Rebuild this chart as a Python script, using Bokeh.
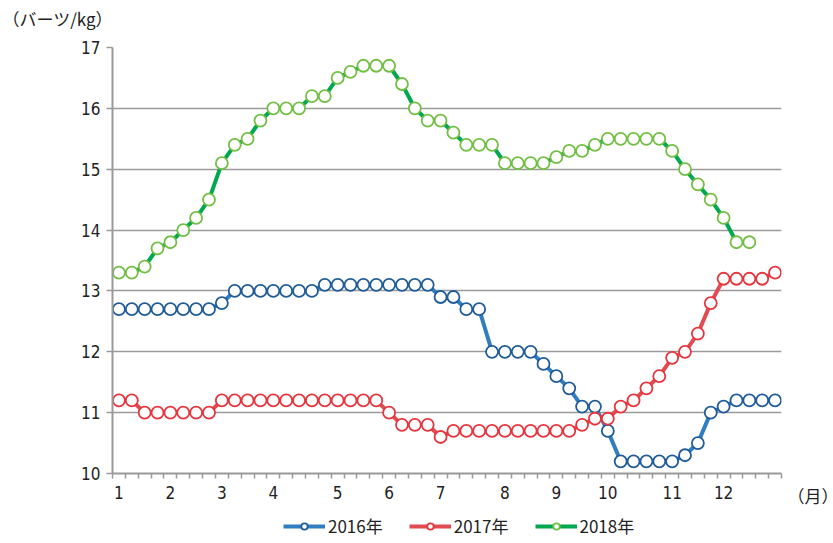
from bokeh.plotting import figure
from bokeh.models import FixedTicker, Legend, LegendItem, Range1d, Label, Title
from bokeh.layouts import column, row
from bokeh.embed import file_html
from bokeh.resources import INLINE

# ---- data (weekly prices, baht/kg) ----
month_labels = ["1", "2", "3", "4", "5", "6", "7", "8", "9", "10", "11", "12"]
month_weeks = [0, 4, 8, 12, 17, 21, 25, 30, 34, 38, 43, 47]

s2016 = [12.7, 12.7, 12.7, 12.7, 12.7, 12.7, 12.7, 12.7, 12.8, 13.0,
         13.0, 13.0, 13.0, 13.0, 13.0, 13.0, 13.1, 13.1, 13.1, 13.1,
         13.1, 13.1, 13.1, 13.1, 13.1, 12.9, 12.9, 12.7, 12.7, 12.0,
         12.0, 12.0, 12.0, 11.8, 11.6, 11.4, 11.1, 11.1, 10.7, 10.2,
         10.2, 10.2, 10.2, 10.2, 10.3, 10.5, 11.0, 11.1, 11.2, 11.2,
         11.2, 11.2]
s2017 = [11.2, 11.2, 11.0, 11.0, 11.0, 11.0, 11.0, 11.0, 11.2, 11.2,
         11.2, 11.2, 11.2, 11.2, 11.2, 11.2, 11.2, 11.2, 11.2, 11.2,
         11.2, 11.0, 10.8, 10.8, 10.8, 10.6, 10.7, 10.7, 10.7, 10.7,
         10.7, 10.7, 10.7, 10.7, 10.7, 10.7, 10.8, 10.9, 10.9, 11.1,
         11.2, 11.4, 11.6, 11.9, 12.0, 12.3, 12.8, 13.2, 13.2, 13.2,
         13.2, 13.3]
s2018 = [13.3, 13.3, 13.4, 13.7, 13.8, 14.0, 14.2, 14.5, 15.1, 15.4,
         15.5, 15.8, 16.0, 16.0, 16.0, 16.2, 16.2, 16.5, 16.6, 16.7,
         16.7, 16.7, 16.4, 16.0, 15.8, 15.8, 15.6, 15.4, 15.4, 15.4,
         15.1, 15.1, 15.1, 15.1, 15.2, 15.3, 15.3, 15.4, 15.5, 15.5,
         15.5, 15.5, 15.5, 15.3, 15.0, 14.75, 14.5, 14.2, 13.8, 13.8]

series = [
    ("2016年", s2016, "#2F7EC1", "#1F5C99"),
    ("2017年", s2017, "#E14B52", "#E8343C"),
    ("2018年", s2018, "#00A84F", "#72BF44"),
]

NUM_FONT = "Liberation Sans Narrow, DejaVu Sans Condensed, sans-serif"
JP_FONT = "Noto Sans CJK JP"
TXT = "#222222"
GRID = "#9a9a9a"


def blank(w, h, y0=0):
    f = figure(width=w, height=h, x_range=Range1d(0, w),
               y_range=Range1d(y0, y0 + h),
               x_axis_type=None, y_axis_type=None, toolbar_location=None,
               output_backend="svg", min_border=0)
    f.outline_line_color = None
    return f


# header with unit label
header = blank(830, 30)
header.add_layout(Label(x=2, y=12, text="（バーツ/kg）", text_font=JP_FONT,
                        text_font_size="17px", text_color=TXT,
                        text_baseline="middle", text_align="left"))

# main chart
p = figure(width=785, height=484, output_backend="svg", toolbar_location=None,
           x_range=Range1d(-0.5, 51.5), y_range=Range1d(10, 17),
           min_border_left=112, min_border_right=4, min_border_top=17,
           min_border_bottom=40)
p.outline_line_color = None

p.xaxis.ticker = FixedTicker(ticks=month_weeks,
                             minor_ticks=[w - 0.5 for w in range(53)])
p.xaxis.major_label_overrides = {w: m for w, m in zip(month_weeks, month_labels)}
p.xaxis.major_tick_out = 0
p.xaxis.major_tick_in = 0
p.xaxis.minor_tick_out = 5
p.xaxis.minor_tick_in = 0
p.xaxis.minor_tick_line_color = GRID
p.xaxis.minor_tick_line_width = 1.5
p.xaxis.axis_line_color = GRID
p.xaxis.axis_line_width = 2
p.xaxis.major_label_standoff = 7
p.xaxis.major_label_text_font = NUM_FONT
p.xaxis.major_label_text_font_size = "17px"
p.xaxis.major_label_text_color = TXT

p.yaxis.ticker = FixedTicker(ticks=[10, 11, 12, 13, 14, 15, 16, 17])
p.yaxis.major_tick_out = 6
p.yaxis.major_tick_in = 0
p.yaxis.minor_tick_out = 0
p.yaxis.minor_tick_in = 0
p.yaxis.major_tick_line_color = GRID
p.yaxis.major_tick_line_width = 1.5
p.yaxis.axis_line_color = GRID
p.yaxis.axis_line_width = 2
p.yaxis.major_label_standoff = 6
p.yaxis.major_label_text_font = NUM_FONT
p.yaxis.major_label_text_font_size = "17px"
p.yaxis.major_label_text_color = TXT

p.xgrid.grid_line_color = None
p.ygrid.grid_line_color = GRID
p.ygrid.grid_line_width = 1.5

for name, vals, lc, mc in series:
    xs = list(range(len(vals)))
    p.line(xs, vals, line_color=lc, line_width=4)
    p.scatter(xs, vals, marker="circle", size=12, fill_color="white",
              line_color=mc, line_width=1.8)

# right strip with the month unit (frame is aligned with the main frame,
# so the unit goes into its bottom panel as a title)
side = blank(45, 484)
side.add_layout(Title(text="（月）", align="left", offset=2, standoff=14,
                      text_font=JP_FONT, text_font_size="17px",
                      text_color=TXT, text_font_style="normal"), "below")

# legend strip (its renderers hold the series but lie outside its view)
leg = blank(830, 28, y0=100)
items = []
for name, vals, lc, mc in series:
    xs = list(range(len(vals)))
    r1 = leg.line(xs, vals, line_color=lc, line_width=4)
    r2 = leg.scatter(xs, vals, marker="circle", size=12, fill_color="white",
                     line_color=mc, line_width=1.8)
    items.append(LegendItem(label=name, renderers=[r1, r2]))
legend = Legend(items=items, orientation="horizontal", location=(283, 4),
                glyph_width=42, glyph_height=16, label_height=16,
                spacing=26, label_standoff=3, padding=0, margin=0,
                border_line_color=None, background_fill_alpha=0,
                label_text_font=JP_FONT, label_text_font_size="17px",
                label_text_color=TXT)
leg.add_layout(legend, "center")

layout = column(header, row(p, side), leg)
open("out.html", "w").write(file_html(layout, INLINE))
